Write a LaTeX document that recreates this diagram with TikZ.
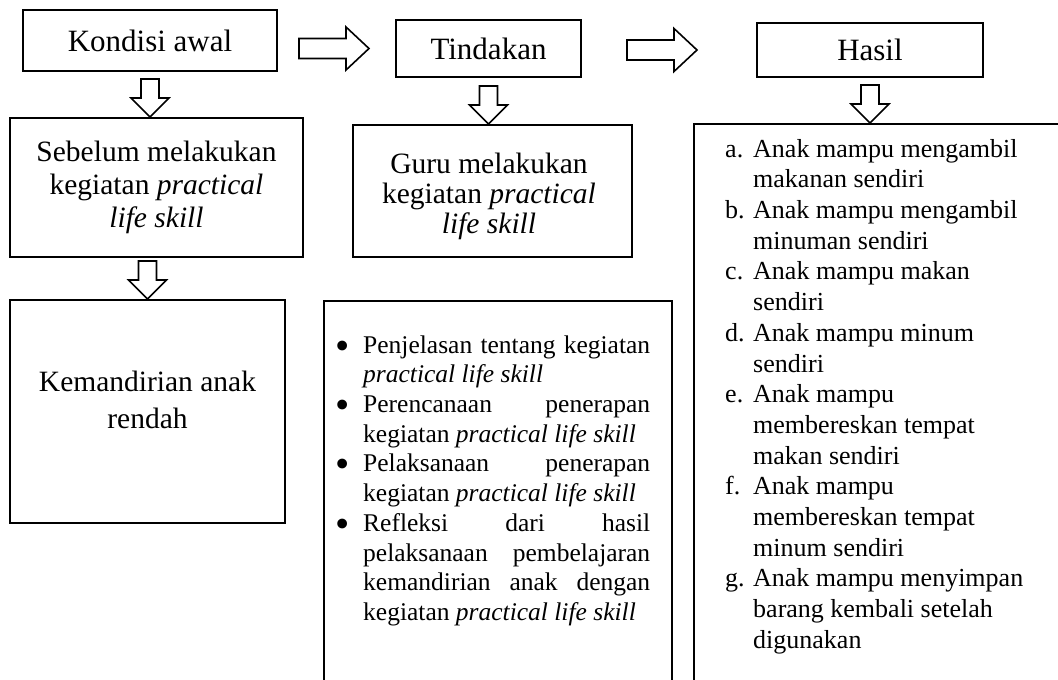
\documentclass[tikz,border=0pt]{standalone}
\usepackage{fontspec}
\setmainfont{Liberation Serif}
\usetikzlibrary{positioning, calc}

\newcommand{\headsize}{\fontsize{31}{34}\selectfont}
\newcommand{\bodysize}{\fontsize{29.5}{33}\selectfont}
\newcommand{\listsize}{\fontsize{26}{30.7}\selectfont}
\newcommand{\bulletsize}{\fontsize{25.5}{29.7}\selectfont}
\newcommand{\bigdot}{\raisebox{-6pt}{\scalebox{1.6}{\textbullet}}}

% hollow block arrows, given by their tip
\newcommand{\fatdown}[1]{\draw[fat] #1 -- ++(-19,-19) -- ++(10,0) -- ++(0,-19)
  -- ++(18,0) -- ++(0,19) -- ++(10,0) -- cycle;}
\newcommand{\fatright}[1]{\draw[fat] #1 -- ++(-23,-21.5) -- ++(0,11.5) -- ++(-47,0)
  -- ++(0,20) -- ++(47,0) -- ++(0,11.5) -- cycle;}

\begin{document}
\begin{tikzpicture}[x=1pt,y=-1pt,
  box/.style={draw, line width=2pt, inner sep=0pt, align=center},
  fat/.style={draw, line width=1.6pt, line join=miter},
  txt/.style={inner sep=0pt, align=center}]
  \useasboundingbox (0,0) rectangle (1058,680);

  % top row
  \node[box, minimum width=254, minimum height=61, font=\headsize] (K) at (150,40.5) {Kondisi awal};
  \node[box, minimum width=185, minimum height=57, font=\headsize] (T) at (488.5,48.5) {Tindakan};
  \node[box, minimum width=226, minimum height=54, font=\headsize] (H) at (870,50) {Hasil};

  % second row
  \node[box, minimum width=293, minimum height=139, font=\bodysize] (S) at (156.5,187.5)
    {Sebelum melakukan\\kegiatan \textit{practical}\\\textit{life skill}};
  \node[box, minimum width=279, minimum height=132] (G) at (492.5,191) {};
  \node[txt, anchor=north, font={\fontsize{29.5}{30}\selectfont}] (Gt) at (489,153)
    {Guru melakukan\\kegiatan \textit{practical}\\\textit{life skill}};

  % lower boxes
  \node[box, minimum width=275, minimum height=223] (KR) at (147.5,411.5) {};
  \node[txt, anchor=north, font={\fontsize{29.5}{37}\selectfont}] (KRt) at (147.5,371)
    {Kemandirian anak\\rendah};

  \node[box, anchor=north west, minimum width=348, minimum height=400] (TL) at (323,300) {};
  \node[txt, anchor=north west, font=\bulletsize] (TLt) at (335,332.2) {%
    \begin{tabular}{@{}p{28pt}@{}p{287pt}@{}}
    \bigdot & Penjelasan tentang kegiatan\linebreak \textit{practical life skill}\\
    \bigdot & Perencanaan penerapan\linebreak kegiatan \textit{practical life skill}\\
    \bigdot & Pelaksanaan penerapan\linebreak kegiatan \textit{practical life skill}\\
    \bigdot & Refleksi dari hasil\linebreak pelaksanaan pembelajaran\linebreak
      kemandirian anak dengan\linebreak kegiatan \textit{practical life skill}\\
    \end{tabular}};

  \node[box, anchor=north west, minimum width=400, minimum height=600] (HL) at (693,123) {};
  \node[txt, anchor=north west, font=\listsize] (HLt) at (725,135.5) {%
    \begin{tabular}{@{}p{28pt}@{}l@{}}
    a. & Anak mampu mengambil\\
       & makanan sendiri\\
    b. & Anak mampu mengambil\\
       & minuman sendiri\\
    c. & Anak mampu makan\\
       & sendiri\\
    d. & Anak mampu minum\\
       & sendiri\\
    e. & Anak mampu\\
       & membereskan tempat\\
       & makan sendiri\\
    f. & Anak mampu\\
       & membereskan tempat\\
       & minum sendiri\\
    g. & Anak mampu menyimpan\\
       & barang kembali setelah\\
       & digunakan\\
    \end{tabular}};

  % block arrows
  \fatright{($(T.west)+(-26,0)$)}
  \fatright{($(H.west)+(-59,0)$)}
  \fatdown{(K.south |- S.north)}
  \fatdown{(KR.north)}
  \fatdown{(T.south |- G.north)}
  \fatdown{(H.south |- HL.north)}
\end{tikzpicture}
\end{document}
